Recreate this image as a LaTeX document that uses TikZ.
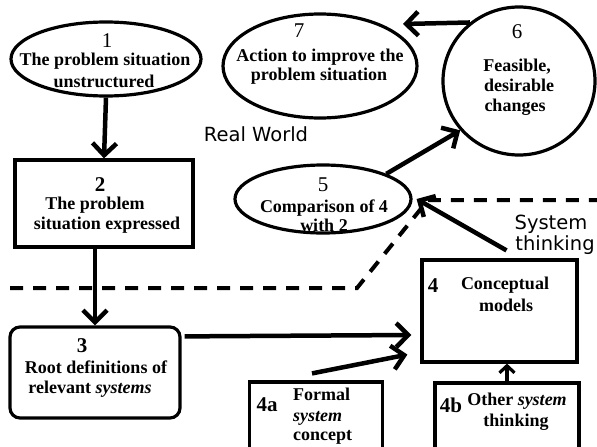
\documentclass[tikz,border=0pt]{standalone}
\usepackage{fontspec}
\setmainfont{Liberation Serif}
\newfontfamily\labelsans{DejaVu Sans}
\usetikzlibrary{arrows.meta,shapes.geometric,calc}
\begin{document}
\begin{tikzpicture}[x=1pt,y=-1pt,
  outl/.style={draw=black,line width=3.2pt},
  ell/.style={outl,ellipse,inner sep=0pt},
  box/.style={outl,rectangle,inner sep=0pt},
  arr/.style={line width=4.5pt,-{Straight Barb[length=12pt,width=24pt]}},
  smallarr/.style={line width=3.2pt,-{Straight Barb[length=7pt,width=15pt]}},
  dashln/.style={line width=4pt,dash pattern=on 13pt off 10pt},
  txt/.style={inner sep=0pt,text height=12.5pt,text depth=3.5pt,font=\fontsize{18}{21}\selectfont\bfseries},
  num/.style={inner sep=0pt,text height=14pt,text depth=0pt,font=\fontsize{21}{24}\selectfont},
  bnum/.style={num,font=\fontsize{21}{24}\selectfont\bfseries},
  sans/.style={inner sep=0pt,text height=14pt,text depth=0pt,font=\fontsize{19.5}{23}\selectfont\labelsans}
]
\useasboundingbox[fill=white] (0,0) rectangle (597,447);

% shapes
\node[ell,minimum width=190pt,minimum height=74pt] (n1) at (106,59) {};
\node[box,minimum width=178pt,minimum height=87pt] (n2) at (104,203.5) {};
\node[box,rounded corners=10pt,minimum width=170pt,minimum height=91pt] (n3) at (95,372.5) {};
\node[box,minimum width=155pt,minimum height=102pt] (n4) at (499.5,311) {};
\node[box,minimum width=133pt,minimum height=72pt] (n4a) at (316,418) {};
\node[box,minimum width=144pt,minimum height=72pt] (n4b) at (507,419) {};
\node[ell,minimum width=176pt,minimum height=68pt] (n5) at (323,199) {};
\node[ell,minimum width=152pt,minimum height=148pt] (n6) at (519,81) {};
\node[ell,minimum width=194pt,minimum height=104pt] (n7) at (320,66) {};

% texts
\node[num] (t1a) at (107,40) {1};
\node[txt] (t1b) at (105,61) {The problem situation};
\node[txt] (t1c) at (104,83) {unstructured};
\node[bnum] (t2a) at (100,184) {2};
\node[txt] (t2b) at (95,205) {The problem};
\node[txt] (t2c) at (107,225) {situation expressed};
\node[bnum] (t3a) at (82,345) {3};
\node[txt] (t3b) at (96,369) {Root definitions of};
\node[txt] (t3c) at (90,389) {relevant \textit{systems}};
\node[num] (t7a) at (299,30) {7};
\node[txt] (t7b) at (320,57) {Action to improve the};
\node[txt] (t7c) at (319,76) {problem situation};
\node[num] (t6a) at (517,31) {6};
\node[txt] (t6b) at (517,67) {Feasible,};
\node[txt] (t6c) at (519,87) {desirable};
\node[txt] (t6d) at (515,107) {changes};
\node[num] (t5a) at (323,184) {5};
\node[txt] (t5b) at (324,208) {Comparison of 4};
\node[txt] (t5c) at (324,227) {with 2};
\node[bnum] (t4a) at (433,285) {4};
\node[txt] (t4b) at (505,285) {Conceptual};
\node[txt] (t4c) at (506,307) {models};
\node[bnum] (t4aa) at (267,404) {4a};
\node[txt,anchor=west] (t4ab) at (293,396) {Formal};
\node[txt,anchor=west] (t4ac) at (293,417) {\textit{system}};
\node[txt,anchor=west] (t4ad) at (293,436) {concept};
\node[bnum] (t4ba) at (451,405) {4b};
\node[txt] (t4bb) at (517,401) {Other \textit{system}};
\node[txt] (t4bc) at (516,422) {thinking};
\node[sans] (rw) at (256,134) {Real World};
\node[sans] (st1) at (551,222) {System};
\node[sans] (st2) at (555,243) {thinking};

% dashed boundary
\coordinate (d1) at (10,288);
\coordinate (d2) at (357,288);
\coordinate (d3) at (428,200);
\coordinate (d4) at (600,200);
\draw[dashln] (d1) -- (d2) -- (d3) -- (d4);

% connectors
\coordinate (a67) at (403,24);
\draw[arr] (n1.south) -- (n2.north);
\draw[arr] (n2.south -| n3.north) -- (n3.north);
\draw[arr] ($(n3.north east)+(3,11)$) -- ($(n4.west)+(-9,24)$);
\draw[arr] ($(n4a.north)+(-4,-7)$) -- ($(n4.south west)+(-13,-9)$);
\draw[smallarr] (n4b.north) -- (n4b.north |- n4.south);
\draw[arr] ($(n4.north)+(7,-8)$) -- ($(n5.east)+(4,0)$);
\draw[arr] (n5.north east) -- (n6.220);
\draw[arr] (n6.130) -- (a67);
\end{tikzpicture}
\end{document}
